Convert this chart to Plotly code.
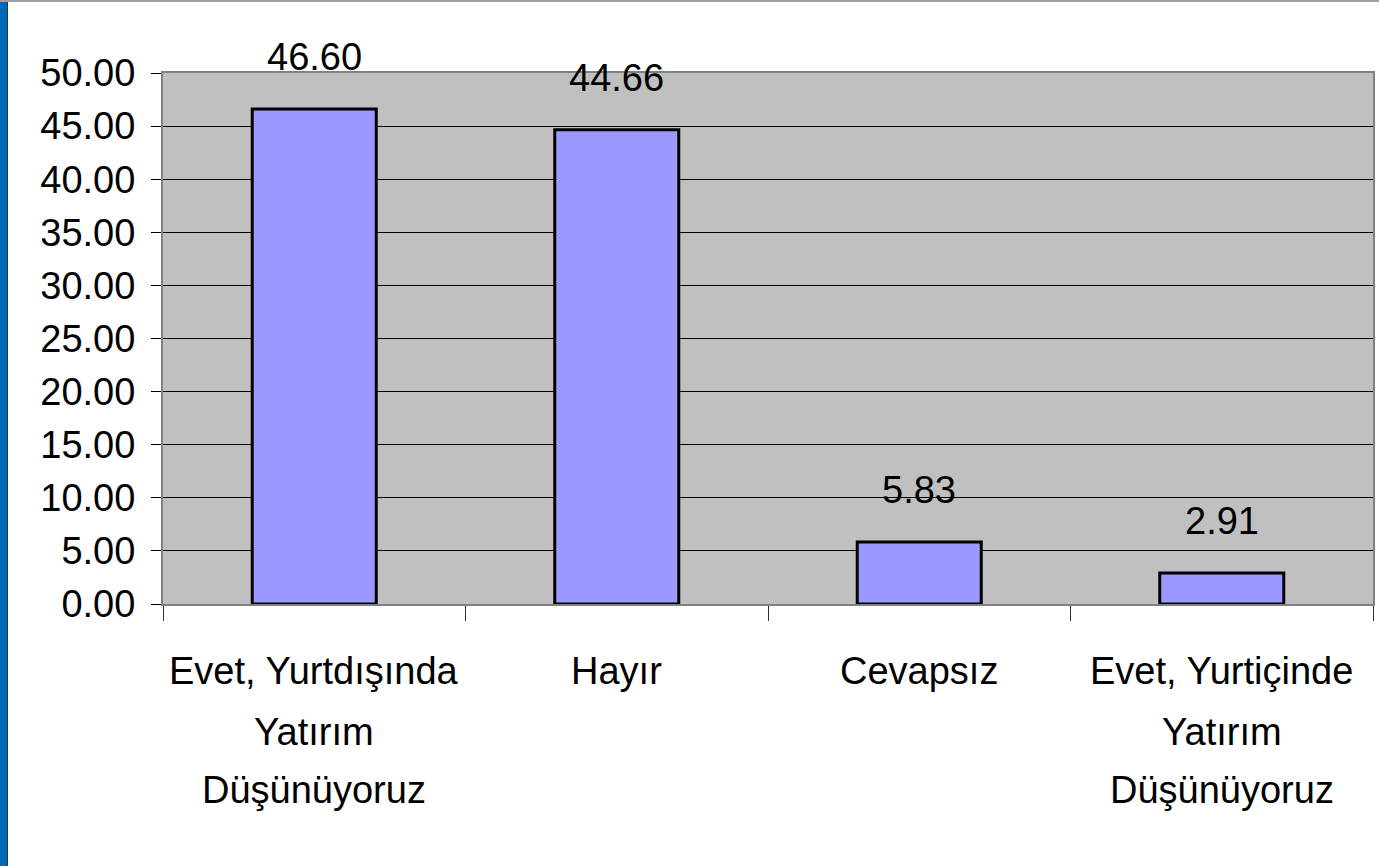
import plotly.graph_objects as go

categories = ["Evet, Yurtdışında Yatırım Düşünüyoruz", "Hayır", "Cevapsız",
              "Evet, Yurtiçinde Yatırım Düşünüyoruz"]
label_lines = [["Evet, Yurtdışında", "Yatırım", "Düşünüyoruz"],
               ["Hayır"],
               ["Cevapsız"],
               ["Evet, Yurtiçinde", "Yatırım", "Düşünüyoruz"]]
values = [46.60, 44.66, 5.83, 2.91]
y_ticks = [0, 5, 10, 15, 20, 25, 30, 35, 40, 45, 50]

FONT = "Liberation Sans, Arial, sans-serif"

fig = go.Figure()
fig.add_trace(go.Bar(
    x=categories, y=values,
    marker=dict(color="#9999FF", line=dict(color="black", width=3)),
    width=0.41, hoverinfo="x+y",
))

annotations = []
for c, v in zip(categories, values):
    annotations.append(dict(x=c, y=v, xref="x", yref="y", text=f"{v:.2f}",
                            showarrow=False, yanchor="middle", yshift=52,
                            font=dict(family=FONT, size=38, color="black")))
line_offsets = [-67, -128, -186]
for c, lines in zip(categories, label_lines):
    for ln, off in zip(lines, line_offsets):
        annotations.append(dict(x=c, y=0, xref="x", yref="paper", text=ln,
                                showarrow=False, yanchor="middle", yshift=off,
                                font=dict(family=FONT, size=38, color="black")))

shapes = [
    # left blue strip
    dict(type="rect", xref="paper", yref="paper", xsizemode="pixel", ysizemode="scaled",
         xanchor=0, x0=-163, x1=-156, y0=-1, y1=2,
         fillcolor="#0068B8", line=dict(width=0), layer="above"),
    dict(type="line", xref="paper", yref="paper", xsizemode="pixel",
         xanchor=0, x0=-155.5, x1=-155.5, y0=-1, y1=2,
         line=dict(color="#333333", width=1)),
    # thin top grey line
    dict(type="line", xref="paper", yref="paper", ysizemode="pixel",
         yanchor=1, x0=-0.2, x1=1.1, y0=72, y1=72,
         line=dict(color="#A0A0A0", width=2)),
]

fig.update_layout(
    width=1379, height=866,
    margin=dict(l=163, r=6, t=73, b=262, autoexpand=False),
    paper_bgcolor="white", plot_bgcolor="#C0C0C0",
    showlegend=False,
    bargap=0.59,
    font=dict(family=FONT, size=38, color="black"),
    annotations=annotations,
    shapes=shapes,
)
fig.update_xaxes(
    type="category", showticklabels=False, tickson="boundaries",
    ticks="outside", ticklen=15, tickcolor="#303030", tickwidth=1,
    showgrid=False, showline=True, linecolor="#808080", linewidth=2, mirror=True,
    automargin=False,
)
fig.update_yaxes(
    range=[0, 50], tickvals=y_ticks, tickformat=".2f",
    ticks="outside", ticklen=10, tickcolor="black", tickwidth=1,
    ticklabelstandoff=8,
    tickfont=dict(family=FONT, size=38, color="black"),
    showgrid=True, gridcolor="black", gridwidth=1,
    showline=True, linecolor="#808080", linewidth=2, mirror=True,
    zeroline=False, automargin=False,
)

fig.write_html("out.html", config={"displayModeBar": False},
               post_script="document.body.style.margin='0';document.body.style.overflow='hidden';")
